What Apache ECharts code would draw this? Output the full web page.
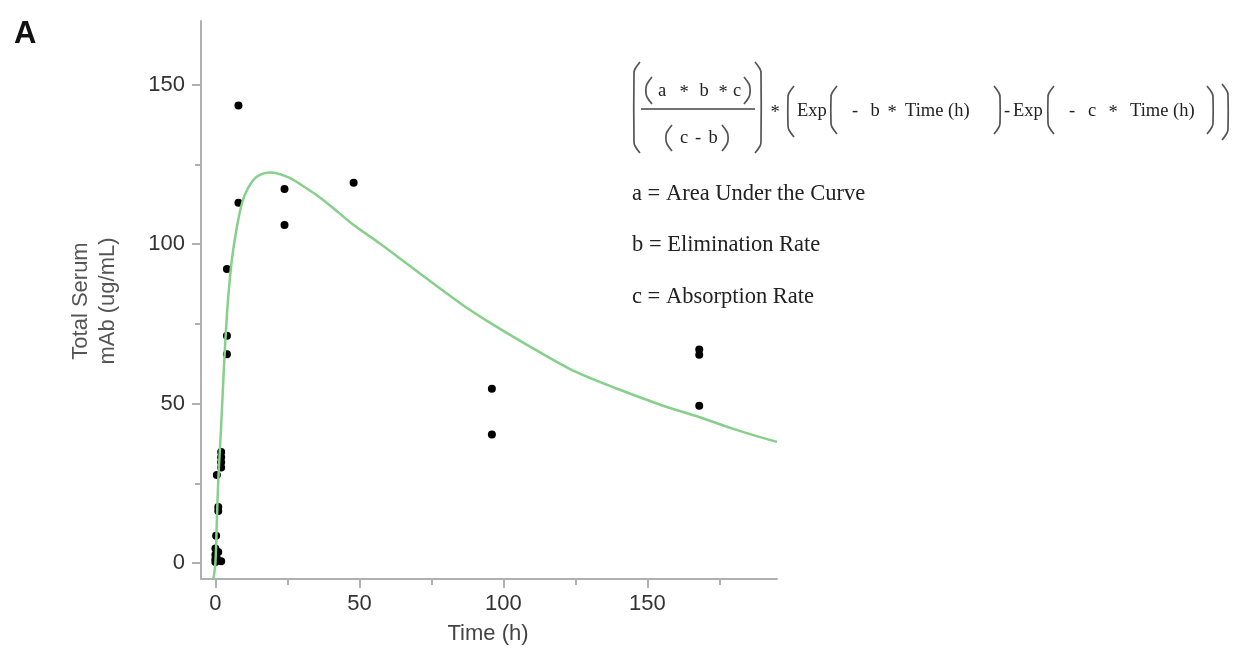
<!DOCTYPE html>
<html><head><meta charset="utf-8">
<script src="https://cdn.jsdelivr.net/npm/echarts@6/dist/echarts.min.js"></script>
<style>html,body{margin:0;padding:0;background:#fff}#c{width:1238px;height:649px}</style>
</head><body><div id="c"></div>
<script>
// Observed data (Time h, Total Serum mAb ug/mL)
const obsTime  = [0, 0, 0, 0, 0.25, 0.5, 0.5, 1, 1, 1, 2, 2, 2, 2, 2, 4, 4, 4, 8, 8, 24, 24, 48, 96, 96, 168, 168, 168];
const obsValue = [0.3, 1.2, 2.6, 4.6, 8.6, 27.6, 1.5, 17.6, 16.3, 3.5, 34.8, 33.2, 31.6, 30.0, 0.6, 92.2, 71.3, 65.5, 143.5, 113.0, 117.3, 106.0, 119.3, 54.7, 40.3, 67.0, 65.3, 49.3];
// Fitted curve
const fitTime  = [-0.7, 0, 0.5, 1, 2, 3, 4, 5, 6, 8, 10, 13, 16, 19.5, 23, 26, 30, 35, 40, 48, 57, 70, 85, 96, 110, 125, 140, 155, 168, 180, 195];
const fitValue = [-5, 0, 13, 26, 43, 62, 78, 89, 97, 108, 115, 120, 122, 122.5, 121.8, 120.7, 118.5, 115.5, 112, 106, 100.3, 91.5, 81.5, 75, 67.5, 60, 54.5, 49.5, 45.8, 42, 38];
// Axis ticks
const xMajorTicks = [0, 50, 100, 150];
const xMinorTicks = [25, 75, 125, 175];
const yMajorTicks = [0, 50, 100, 150];
const yMinorTicks = [25, 75, 125];
const xTitle = 'Time (h)';
const yTitle = 'Total Serum\nmAb (ug/mL)';
const panelLabel = 'A';
const formulaLegend = ['a = Area Under the Curve', 'b = Elimination Rate', 'c = Absorption Rate'];

const chart = echarts.init(document.getElementById('c'), null, {renderer: 'canvas'});
const axisColor = '#b0b0b0';
const labelColor = '#333';
const sansFont = 'Liberation Sans, Arial, sans-serif';
const serif = 'Liberation Serif, Times New Roman, serif';

function bracket(x, top, bottom, dir) {
  const w = 6 * dir, r = 7;
  return {
    type: 'polyline', silent: true,
    shape: {points: [[x + w, top], [x + 1 * dir, top + r], [x, top + r + 4], [x, bottom - r - 4], [x + 1 * dir, bottom - r], [x + w, bottom]], smooth: 0.4},
    style: {stroke: '#555', lineWidth: 1.7, fill: null}
  };
}
function t(str, x, y, align, size) {
  return {type: 'text', silent: true, x: x, y: y,
    style: {text: str, font: (size || 18.5) + 'px ' + serif, fill: '#222', align: align || 'center', verticalAlign: 'middle'}};
}

const graphics = [
  {type: 'text', x: 14, y: 19, style: {text: panelLabel, font: 'bold 31px ' + sansFont, fill: '#111', align: 'left', verticalAlign: 'top'}},
  {type: 'text', x: 94, y: 301, rotation: Math.PI / 2,
    style: {text: yTitle, font: '22px ' + sansFont, fill: '#555', align: 'center', verticalAlign: 'middle', lineHeight: 27}},
  {type: 'text', x: 488, y: 634, style: {text: xTitle, font: '22px ' + sansFont, fill: '#444', align: 'center', verticalAlign: 'middle'}},
  // formula
  bracket(634, 62, 153, 1),
  bracket(646, 77, 104, 1),
  t('a', 662, 91), t('*', 684, 93), t('b', 704, 91), t('*', 723, 93), t('c', 737, 91),
  bracket(750, 77, 104, -1),
  {type: 'line', silent: true, shape: {x1: 641, y1: 109, x2: 755, y2: 109}, style: {stroke: '#444', lineWidth: 1.7}},
  bracket(666, 125, 151, 1),
  t('c', 684, 138), t('-', 698, 138), t('b', 713, 138),
  bracket(728, 125, 151, -1),
  bracket(761, 62, 153, -1),
  t('*', 775, 113),
  bracket(788, 86, 137, 1),
  t('Exp', 797, 111, 'left'),
  bracket(831, 86, 134, 1),
  t('-', 855, 111), t('b', 875, 111), t('*', 892, 113), t('Time (h)', 905, 111, 'left'),
  bracket(1000, 86, 134, -1),
  t('-', 1007, 111),
  t('Exp', 1013, 111, 'left'),
  bracket(1048, 86, 134, 1),
  t('-', 1072, 111), t('c', 1092, 111), t('*', 1113, 113), t('Time (h)', 1130, 111, 'left'),
  bracket(1213, 86, 134, -1),
  bracket(1228, 84, 140, -1)
];
formulaLegend.forEach((s, i) => {
  graphics.push({type: 'text', silent: true, x: 632, y: 194 + i * 51.5,
    style: {text: s, font: '22.5px ' + serif, fill: '#222', align: 'left', verticalAlign: 'middle'}});
});

const xBase = {type: 'value', min: -5, max: 195, gridIndex: 0, position: 'bottom', splitLine: {show: false}};
const yBase = {type: 'value', min: -5, max: 170, gridIndex: 0, position: 'left', splitLine: {show: false}};

chart.setOption({
  animation: false,
  backgroundColor: '#fff',
  grid: {left: 201, right: 461, top: 21, bottom: 70, containLabel: false},
  xAxis: [
    Object.assign({}, xBase, {
      axisLine: {show: true, onZero: false, lineStyle: {color: axisColor, width: 2}},
      axisTick: {show: true, customValues: xMajorTicks, length: 9, lineStyle: {color: axisColor, width: 2}},
      axisLabel: {show: true, customValues: xMajorTicks, fontSize: 22, fontFamily: sansFont, color: labelColor, margin: 14}
    }),
    Object.assign({}, xBase, {
      axisLine: {show: false, onZero: false},
      axisTick: {show: true, customValues: xMinorTicks, length: 6, lineStyle: {color: axisColor, width: 2}},
      axisLabel: {show: false}
    })
  ],
  yAxis: [
    Object.assign({}, yBase, {
      axisLine: {show: true, onZero: false, lineStyle: {color: axisColor, width: 2}},
      axisTick: {show: true, customValues: yMajorTicks, length: 9, lineStyle: {color: axisColor, width: 2}},
      axisLabel: {show: true, customValues: yMajorTicks, fontSize: 22, fontFamily: sansFont, color: labelColor, margin: 16}
    }),
    Object.assign({}, yBase, {
      axisLine: {show: false, onZero: false},
      axisTick: {show: true, customValues: yMinorTicks, length: 6, lineStyle: {color: axisColor, width: 2}},
      axisLabel: {show: false}
    })
  ],
  series: [
    {type: 'scatter', xAxisIndex: 0, yAxisIndex: 0, symbol: 'circle', symbolSize: 8,
      itemStyle: {color: '#000', opacity: 1}, data: obsTime.map((tv, i) => [tv, obsValue[i]]), z: 2},
    {type: 'line', xAxisIndex: 0, yAxisIndex: 0, showSymbol: false, smooth: 0.3, clip: true,
      lineStyle: {color: '#86d08b', width: 2.5}, data: fitTime.map((tv, i) => [tv, fitValue[i]]), z: 3}
  ],
  graphic: graphics
});
</script>
</body></html>
